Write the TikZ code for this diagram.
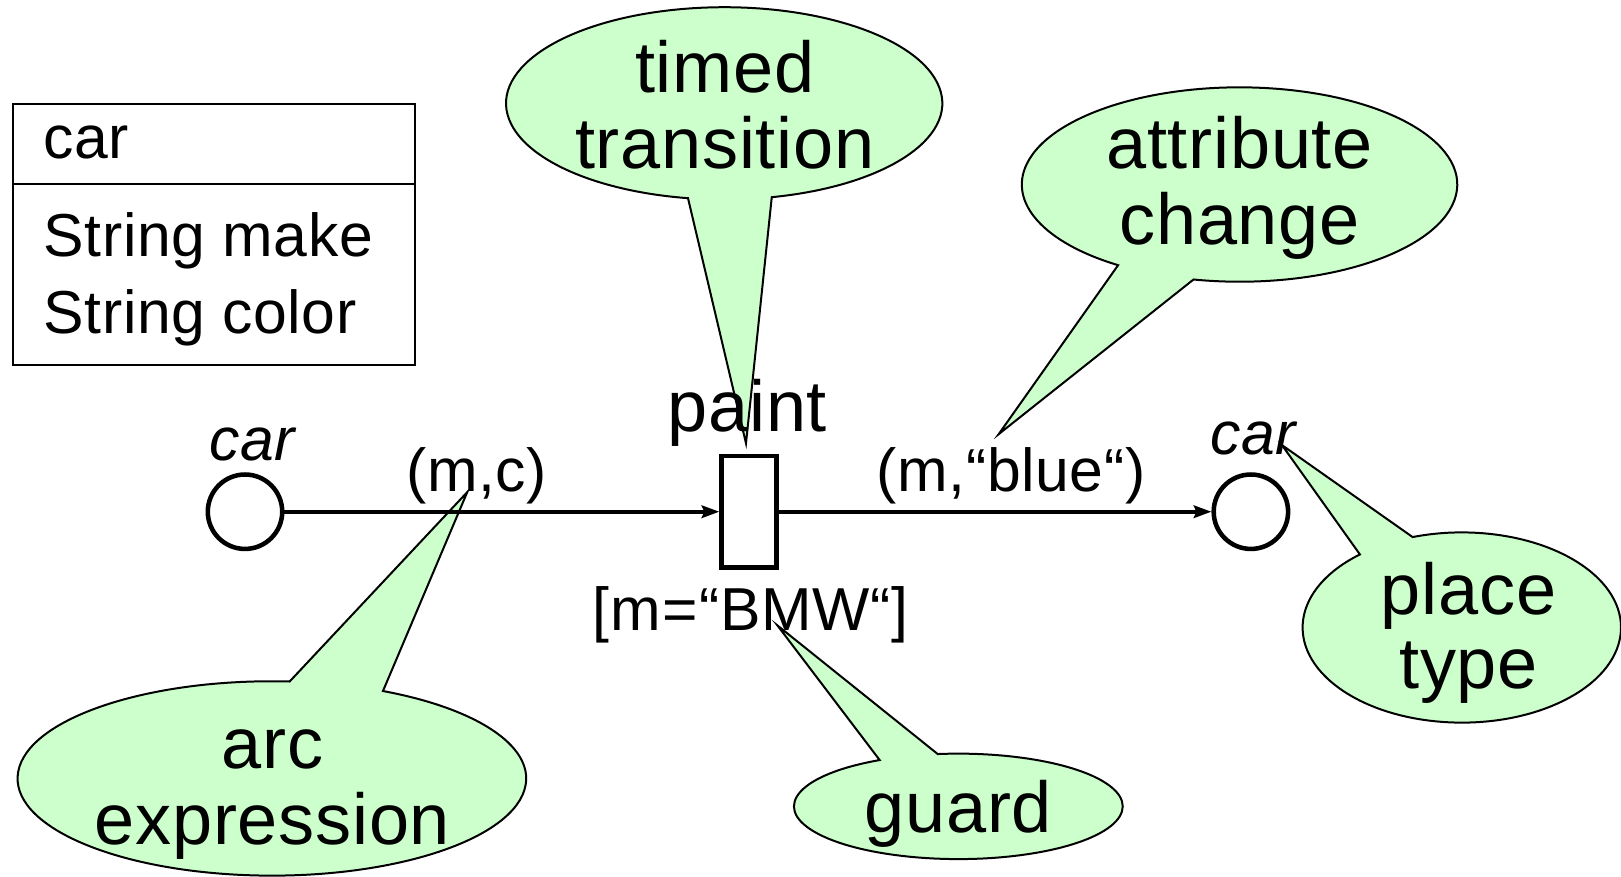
\documentclass[tikz,border=0pt]{standalone}
\usepackage{fontspec}
\setmainfont[LetterSpace=1]{Liberation Sans}
\usetikzlibrary{arrows.meta,calc}

\definecolor{calloutgreen}{RGB}{204,255,204}

\begin{document}
\begin{tikzpicture}[x=0.02cm, y=0.02cm,
  bigtext/.style={font=\fontsize{39.7}{41}\selectfont, inner sep=0pt},
  smalltext/.style={font=\fontsize{33.4}{40}\selectfont, inner sep=0pt},
  typetext/.style={font=\fontsize{33.4}{40}\selectfont\itshape, inner sep=0pt},
  callout/.style={draw=black, fill=calloutgreen, line width=1.1pt, line join=miter},
  pnplace/.style={circle, draw, line width=2.5pt, minimum size=1.44cm, inner sep=0pt},
  pntrans/.style={rectangle, draw, line width=2.5pt, minimum width=1.06cm, minimum height=2.16cm, inner sep=0pt},
  netarc/.style={line width=2.2pt, -{Stealth[length=0.34cm,width=0.24cm,inset=0.05cm]}},
  classbox/.style={line width=1.1pt},
]
\useasboundingbox (0,0) rectangle (1568,848);

% ---- callout balloons (ellipse with a pointed tail, one outline) ----
% timed transition
\coordinate (tipA) at (721.6,419.2);
\draw[callout] (tipA) -- ($(700.5,748)+(282.6:211 and 93)$)
  arc[start angle=282.6, end angle=620.45, x radius=211, y radius=93] -- cycle;
\node[bigtext, align=center] (tA) at (701,736.2) {\strut timed\\\strut transition};

% attribute change
\coordinate (tipB) at (966,428);
\draw[callout] (tipB) -- ($(1199,669.5)+(257.8:210.6 and 94)$)
  arc[start angle=257.8, end angle=596.1, x radius=210.6, y radius=94] -- cycle;
\node[bigtext, align=center] (tB) at (1199,662.5) {\strut attribute\\\strut change};

% arc expression
\coordinate (tipC) at (452,372);
\draw[callout] (tipC) -- ($(263,95)+(86:246 and 94)$)
  arc[start angle=86, end angle=424.1, x radius=246, y radius=94] -- cycle;
\node[bigtext, align=center] (tC) at (263.5,82.5) {\strut arc\\\strut expression};

% guard
\coordinate (tipD) at (752,243);
\draw[callout] (tipD) -- ($(927,68)+(118.6:159 and 51)$)
  arc[start angle=118.6, end angle=457.2, x radius=159, y radius=51] -- cycle;
\node[bigtext, anchor=base] (tD) at (927,43) {guard};

% place type
\coordinate (tipE) at (1240,417.5);
\draw[callout] (tipE) -- ($(1414,241)+(129.8:154 and 92)$)
  arc[start angle=129.8, end angle=468, x radius=154, y radius=92] -- cycle;
\node[bigtext, align=center] (tE) at (1420.5,232.5) {\strut place\\\strut type};

% ---- class declaration ----
\draw[classbox] (12.3,747.4) rectangle (401.4,495);
\draw[classbox] (12.3,669.7) -- (401.4,669.7);
\node[smalltext, anchor=base west] (clsname) at (41.9,694.8) {car};
\node[smalltext, anchor=base west] (attmake) at (41.9,599.7) {String make};
\node[smalltext, anchor=base west] (attcolor) at (41.9,525.6) {String color};

% ---- net ----
\node[pnplace] (pin) at (237,353) {};
\node[pntrans] (paint) at (724.5,353) {};
\node[pnplace] (pout) at (1210,353) {};
\draw[netarc] (pin) -- (paint);
\draw[netarc] (paint) -- (pout);

\node[typetext, anchor=base] (tyin) at (244,403) {car};
\node[typetext, anchor=base] (tyout) at (1212,408) {car};
\node[smalltext, anchor=base] (exin) at (461,373) {(m,c)};
\node[smalltext, anchor=base] (exout) at (978,373) {(m,“blue“)};
\node[bigtext, anchor=base] (tname) at (723,431) {paint};
\node[smalltext, anchor=base] (grd) at (726,238) {[m\kern1pt=\kern1pt“BMW“]};
\end{tikzpicture}
\end{document}
